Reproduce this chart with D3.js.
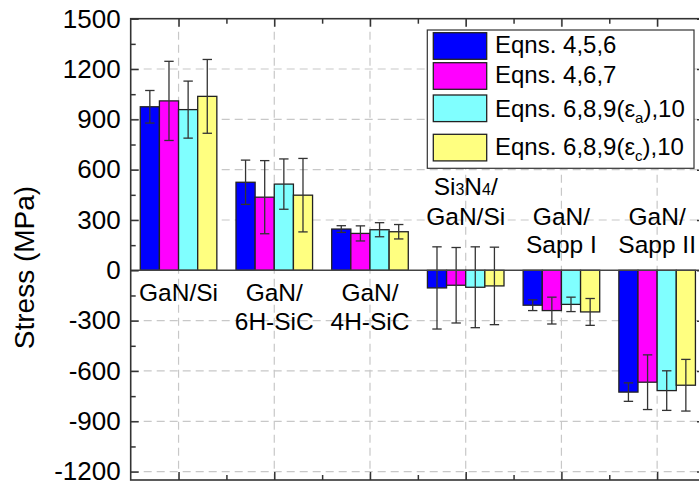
<!DOCTYPE html>
<html>
<head>
<meta charset="utf-8">
<script src="https://cdn.jsdelivr.net/npm/d3@7"></script>
<style>
  html, body { margin: 0; padding: 0; background: #fff; }
  svg { display: block; font-family: "Liberation Sans", Arial, sans-serif; }
</style>
</head>
<body>
<svg id="chart" width="699" height="485"></svg>
<script>
// Residual stress in GaN layers on different substrates, from four sets of equations
const categories = ["GaN/Si", "GaN/6H-SiC", "GaN/4H-SiC", "Si3N4/GaN/Si", "GaN/Sapp I", "GaN/Sapp II"];
const categoryLines = [["GaN/Si"], ["GaN/", "6H-SiC"], ["GaN/", "4H-SiC"], ["Si3N4/", "GaN/Si"], ["GaN/", "Sapp I"], ["GaN/", "Sapp II"]];

const seriesNames = ["Eqns. 4,5,6", "Eqns. 4,6,7", "Eqns. 6,8,9(εa),10", "Eqns. 6,8,9(εc),10"];
const seriesColors = ["#0000ff", "#ff00ff", "#80ffff", "#ffff80"];

const eq456   = [975, 525, 246, -105, -208, -726];
const eq467   = [1010, 436, 220, -89, -240, -667];
const eq689a  = [958, 514, 242, -101, -203, -717];
const eq689c  = [1037, 448, 230, -93, -248, -685];

const err456  = [97, 132, 20, 245, 32, 55];
const err467  = [236, 218, 45, 225, 80, 163];
const err689a = [170, 150, 42, 241, 43, 118];
const err689c = [220, 219, 43, 231, 80, 154];

const yMajorTicks = [-1200, -900, -600, -300, 0, 300, 600, 900, 1200, 1500];
const yMinorTicks = [-1050, -750, -450, -150, 150, 450, 750, 1050, 1350];

const values = [eq456, eq467, eq689a, eq689c];
const errors = [err456, err467, err689a, err689c];

const svg = d3.select("#chart");
const plotL = 130.7, plotR = 705, plotT = 18.7, plotB = 480;

const x = d3.scaleBand().domain(categories).range([plotL, plotR])
  .paddingInner(0.2).paddingOuter(0.1);
const xSeries = d3.scaleBand().domain(d3.range(seriesNames.length))
  .range([0, x.bandwidth()]).padding(0);
const y = d3.scaleLinear().domain([-1250, 1500]).range([plotB, plotT]);

const axisColor = "#333";
const gridColor = "#c8c8c8";

// grid
const grid = svg.append("g");
grid.selectAll("line.h").data(yMajorTicks.filter(v => v !== 0 && v !== 1500))
  .join("line").attr("class", "h")
  .attr("x1", plotL).attr("x2", plotR)
  .attr("y1", d => y(d)).attr("y2", d => y(d))
  .attr("stroke", gridColor).attr("stroke-width", 1.2).attr("stroke-dasharray", "8,5");
grid.selectAll("line.v").data(categories)
  .join("line").attr("class", "v")
  .attr("x1", d => x(d) + x.bandwidth() / 2).attr("x2", d => x(d) + x.bandwidth() / 2)
  .attr("y1", plotT).attr("y2", plotB)
  .attr("stroke", gridColor).attr("stroke-width", 1.2).attr("stroke-dasharray", "8,5");

// bars
const flat = [];
categories.forEach((c, i) => {
  values.forEach((s, k) => flat.push({ c, k, v: s[i], e: errors[k][i] }));
});

const bars = svg.append("g");
bars.selectAll("rect").data(flat).join("rect")
  .attr("x", d => x(d.c) + xSeries(d.k))
  .attr("width", xSeries.bandwidth())
  .attr("y", d => y(Math.max(0, d.v)))
  .attr("height", d => Math.abs(y(d.v) - y(0)))
  .attr("fill", d => seriesColors[d.k])
  .attr("stroke", "#222").attr("stroke-width", 1.3);

// error bars
const eb = svg.append("g").attr("stroke", "#333").attr("stroke-width", 1.3);
const cx = d => x(d.c) + xSeries(d.k) + xSeries.bandwidth() / 2;
eb.selectAll("line.stem").data(flat).join("line").attr("class", "stem")
  .attr("x1", cx).attr("x2", cx)
  .attr("y1", d => y(d.v + d.e)).attr("y2", d => y(d.v - d.e));
eb.selectAll("line.capt").data(flat).join("line").attr("class", "capt")
  .attr("x1", d => cx(d) - 4.7).attr("x2", d => cx(d) + 4.7)
  .attr("y1", d => y(d.v + d.e)).attr("y2", d => y(d.v + d.e));
eb.selectAll("line.capb").data(flat).join("line").attr("class", "capb")
  .attr("x1", d => cx(d) - 4.7).attr("x2", d => cx(d) + 4.7)
  .attr("y1", d => y(d.v - d.e)).attr("y2", d => y(d.v - d.e));

// zero line
svg.append("line")
  .attr("x1", plotL).attr("x2", plotR).attr("y1", y(0)).attr("y2", y(0))
  .attr("stroke", "#444").attr("stroke-width", 1.5);

// frame and axes
const yAxis = svg.append("g").attr("transform", `translate(${plotL},0)`)
  .call(d3.axisLeft(y).tickValues(yMajorTicks).tickSize(-8).tickPadding(10).tickFormat(d => String(d)));
svg.append("g").attr("transform", `translate(${plotL},0)`)
  .call(d3.axisLeft(y).tickValues(yMinorTicks).tickSize(-5).tickFormat(""));
svg.append("g").attr("transform", `translate(${plotR},0)`)
  .call(d3.axisRight(y).tickValues(yMajorTicks).tickSize(-8).tickFormat(""));
svg.append("g").attr("transform", `translate(${plotR},0)`)
  .call(d3.axisRight(y).tickValues(yMinorTicks).tickSize(-5).tickFormat(""));

const xMajor = categories.map(c => x(c) + x.bandwidth() / 2);
const xMinor = xMajor.slice(0, -1).map((v, i) => (v + xMajor[i + 1]) / 2);
const xTickScale = d3.scaleIdentity();
svg.append("g").attr("transform", `translate(0,${plotT})`)
  .call(d3.axisTop(xTickScale).tickValues(xMajor).tickSize(-8).tickFormat(""));
svg.append("g").attr("transform", `translate(0,${plotT})`)
  .call(d3.axisTop(xTickScale).tickValues(xMinor).tickSize(-5).tickFormat(""));
svg.append("g").attr("transform", `translate(0,${plotB})`)
  .call(d3.axisBottom(xTickScale).tickValues(xMajor).tickSize(-8).tickFormat(""));
svg.append("g").attr("transform", `translate(0,${plotB})`)
  .call(d3.axisBottom(xTickScale).tickValues(xMinor).tickSize(-5).tickFormat(""));

svg.selectAll(".domain").remove();
svg.selectAll(".tick line").attr("stroke", axisColor).attr("stroke-width", 1.5);
yAxis.selectAll(".tick text")
  .attr("font-size", 26).attr("fill", "#000")
  .attr("font-family", "'Liberation Sans', Arial, sans-serif");

svg.append("rect")
  .attr("x", plotL).attr("y", plotT).attr("width", plotR - plotL).attr("height", plotB - plotT)
  .attr("fill", "none").attr("stroke", axisColor).attr("stroke-width", 1.6);

// axis title
svg.append("text")
  .attr("transform", "translate(33.5,267.5) rotate(-90)")
  .attr("text-anchor", "middle").attr("font-size", 28).attr("fill", "#000")
  .text("Stress (MPa)");

// category labels: below the zero line for tensile, above it for compressive
const labels = svg.append("g").attr("font-size", 24.5).attr("fill", "#000").attr("text-anchor", "middle");
categories.forEach((c, i) => {
  const lines = categoryLines[i];
  const gx = x(c) + x.bandwidth() / 2;
  let baselines;
  if (d3.min(values, s => s[i]) >= 0) baselines = [y(0) + 31, y(0) + 60];
  else if (lines[0].startsWith("Si3N4")) baselines = [y(0) - 75, y(0) - 45];
  else baselines = [y(0) - 45, y(0) - 17];
  lines.forEach((ln, j) => {
    const t = labels.append("text").attr("x", gx).attr("y", baselines[j]);
    if (ln.startsWith("Si3N4")) {
      t.append("tspan").text("Si");
      t.append("tspan").attr("font-size", 16).text("3");
      t.append("tspan").text("N");
      t.append("tspan").attr("font-size", 16).text("4");
      t.append("tspan").text("/");
    } else {
      t.text(ln);
    }
  });
});

// legend
const lg = svg.append("g");
lg.append("rect").attr("x", 427.3).attr("y", 30).attr("width", 266.7).attr("height", 138.3)
  .attr("fill", "#fff").attr("stroke", "#333").attr("stroke-width", 1.2);
const swatchY = [32.7, 62.7, 95, 134.3];
const textBase = [53.3, 83.3, 116.7, 155];
seriesNames.forEach((name, k) => {
  lg.append("rect").attr("x", 433.3).attr("y", swatchY[k]).attr("width", 53.4).attr("height", 26.6)
    .attr("fill", seriesColors[k]).attr("stroke", "#222").attr("stroke-width", 1.3);
  const t = lg.append("text").attr("x", 495).attr("y", textBase[k]).attr("font-size", 24).attr("fill", "#000");
  const m = name.match(/^(.*ε)([ac])(\).*)$/);
  if (m) {
    t.append("tspan").text(m[1]);
    t.append("tspan").attr("font-size", 15).attr("dy", 6).text(m[2]);
    t.append("tspan").attr("dy", -6).text(m[3]);
  } else {
    t.text(name);
  }
});
</script>
</body>
</html>
